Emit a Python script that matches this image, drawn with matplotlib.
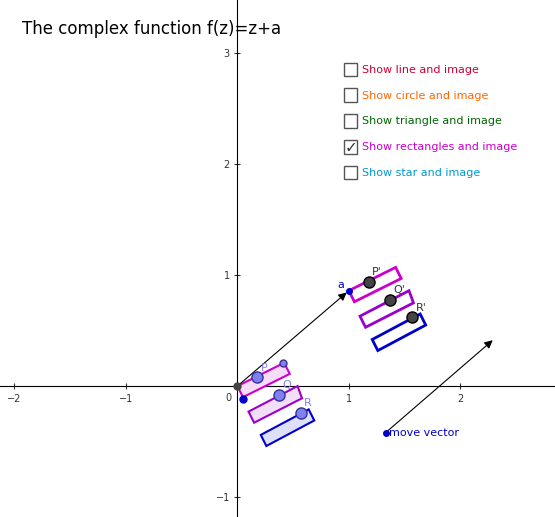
import numpy as np
import matplotlib.pyplot as plt
from matplotlib.patches import Polygon, FancyArrowPatch

# vector a
a = (1.0, 0.86)

# rectangles (corners) in the pre-image
rect_p = [(0.0, 0.0), (0.42, 0.21), (0.47, 0.11), (0.05, -0.10)]
rect_q = [(0.10, -0.23), (0.54, 0.00), (0.58, -0.11), (0.15, -0.33)]
rect_r = [(0.21, -0.44), (0.64, -0.21), (0.69, -0.31), (0.26, -0.54)]
rect_colors = ['#cc00cc', '#9900cc', '#0000cc']
rect_fills = ['#f7dcf7', '#f3def7', '#dde0f7']

pts = {'P': (0.18, 0.08), 'Q': (0.37, -0.08), 'R': (0.57, -0.24)}
extra_pt = (0.41, 0.21)
blue_pt = (0.05, -0.12)
move_start = (1.33, -0.42)
move_end = (2.31, 0.43)

checkboxes = ['Show line and image', 'Show circle and image', 'Show triangle and image',
              'Show rectangles and image', 'Show star and image']
check_colors = ['#cc0033', '#ff6600', '#006600', '#cc00cc', '#0099cc']
checked = [False, False, False, True, False]

fig = plt.figure(figsize=(5.55, 5.17), dpi=100)
ax = fig.add_axes([0, 0, 1, 1])
ax.set_xlim(-2.13, 2.85)
ax.set_ylim(-1.18, 3.48)
for s in ['top', 'right']:
    ax.spines[s].set_visible(False)
ax.spines['left'].set_position(('data', 0))
ax.spines['bottom'].set_position(('data', 0))
ax.tick_params(direction='inout', labelsize=7, colors='#333333', length=4)
ax.set_xticks([-2, -1, 1, 2])
ax.set_yticks([-1, 1, 2, 3])
ax.text(-0.05, -0.06, '0', fontsize=7, ha='right', va='top', color='#333333')

for corners, c, f in zip([rect_p, rect_q, rect_r], rect_colors, rect_fills):
    ax.add_patch(Polygon(corners, closed=True, fc=f, ec=c, lw=1.5, zorder=3))
    img = [(x + a[0], y + a[1]) for x, y in corners]
    ax.add_patch(Polygon(img, closed=True, fill=False, ec=c, lw=2, zorder=3))

ax.add_patch(FancyArrowPatch((0, 0), a, arrowstyle='-|>', mutation_scale=12, color='black', lw=0.8, zorder=4))
ax.add_patch(FancyArrowPatch(move_start, move_end, arrowstyle='-|>', mutation_scale=12, color='black', lw=0.8, zorder=4))

for name, (x, y) in pts.items():
    ax.plot(x, y, 'o', ms=8, mfc='#8080f0', mec='#333399', zorder=5)
    ax.text(x + 0.03, y + 0.06, name, color='#8080f0', fontsize=8, zorder=6)
    ax.plot(x + a[0], y + a[1], 'o', ms=8, mfc='#444444', mec='black', zorder=5)
    ax.text(x + a[0] + 0.03, y + a[1] + 0.06, name + "'", color='#333333', fontsize=8, zorder=6)
ax.plot(*extra_pt, 'o', ms=5, mfc='#8080f0', mec='#333399', zorder=5)
ax.plot(*blue_pt, 'o', ms=5, color='#0000cc', zorder=5)
ax.plot(0, 0, 'o', ms=5, color='#444444', zorder=5)
ax.plot(*a, 'o', ms=4, color='#0000cc', zorder=5)
ax.text(a[0] - 0.04, a[1] + 0.02, 'a', color='#0000cc', fontsize=8, ha='right', zorder=6)
ax.plot(*move_start, 'o', ms=4, color='#0000cc', zorder=5)
ax.text(move_start[0] + 0.03, move_start[1], 'move vector', color='#0000cc', fontsize=8, va='center')

ax.text(0.04, 0.935, 'The complex function f(z)=z+a', transform=fig.transFigure, fontsize=12)
for i, (label, c, ch) in enumerate(zip(checkboxes, check_colors, checked)):
    yf = 0.865 - i * 0.05
    fig.patches.append(plt.Rectangle((0.62, yf - 0.012), 0.024, 0.026, transform=fig.transFigure,
                                     fill=False, ec='#555555', lw=1))
    if ch:
        fig.text(0.632, yf, '✓', fontsize=11, ha='center', va='center', color='#333333')
    fig.text(0.652, yf, label, fontsize=8, va='center', color=c)

fig.savefig('out.png')
